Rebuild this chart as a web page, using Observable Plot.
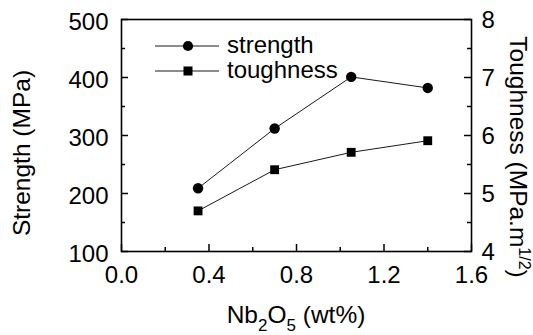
<!DOCTYPE html>
<html><head><meta charset="utf-8">
<script src="https://cdn.jsdelivr.net/npm/d3@7"></script>
<script src="https://cdn.jsdelivr.net/npm/@observablehq/plot@0.6"></script>
<style>body{margin:0;background:#fff}</style>
</head><body><div id="chart"></div>
<script>
const nb2o5 = [0.35, 0.70, 1.05, 1.40];
const strength = [209, 312, 401, 382];
const toughness = [4.70, 5.41, 5.71, 5.91];
const xTicks = [0.0, 0.4, 0.8, 1.2, 1.6];
const xMinor = [0.2, 0.6, 1.0, 1.4];
const yTicks = [100, 200, 300, 400, 500];
const yMinor = [150, 250, 350, 450];
const rTicks = [4, 5, 6, 7, 8];
const rMinor = [4.5, 5.5, 6.5, 7.5];

const toLeft = t => 100 + (t - 4) * 100;
const fromLeft = v => 4 + (v - 100) / 100;

const sData = nb2o5.map((x, i) => ({x, y: strength[i]}));
const tData = nb2o5.map((x, i) => ({x, y: toLeft(toughness[i])}));
const font = "'Liberation Sans', Arial, sans-serif";
const FS = 24, TS = 24.5;

const W = 533, H = 335, ML = 121, MR = 62, MT = 19, MB = 84;
const fw = W - ML - MR, fh = H - MT - MB;
const xDom = [0, 1.6], yDom = [100, 500];
const ux = px => px * (xDom[1] - xDom[0]) / fw;
const uy = px => px * (yDom[1] - yDom[0]) / fh;
const tk = {stroke: "black", strokeWidth: 1.5};

const plot = Plot.plot({
  width: W, height: H,
  marginLeft: ML, marginRight: MR, marginTop: MT, marginBottom: MB,
  style: {fontFamily: font, fontSize: FS + "px", color: "black", background: "white"},
  x: {domain: xDom},
  y: {domain: yDom},
  marks: [
    // inward ticks
    Plot.ruleX(xTicks, {x: d => d, y1: yDom[0], y2: yDom[0] + uy(7), ...tk}),
    Plot.ruleX(xMinor, {x: d => d, y1: yDom[0], y2: yDom[0] + uy(4), ...tk}),
    Plot.ruleY(yTicks, {y: d => d, x1: xDom[0], x2: xDom[0] + ux(7), ...tk}),
    Plot.ruleY(yMinor, {y: d => d, x1: xDom[0], x2: xDom[0] + ux(4), ...tk}),
    Plot.ruleY(rTicks.map(toLeft), {y: d => d, x1: xDom[1] - ux(7), x2: xDom[1], ...tk}),
    Plot.ruleY(rMinor.map(toLeft), {y: d => d, x1: xDom[1] - ux(4), x2: xDom[1], ...tk}),
    // tick labels
    Plot.axisX({ticks: xTicks, tickSize: 0, tickPadding: 14, tickFormat: d3.format(".1f"), label: null, fontSize: FS}),
    Plot.axisY({ticks: yTicks, tickSize: 0, tickPadding: 13, label: null, dy: 3, fontSize: FS}),
    Plot.axisY({anchor: "right", ticks: rTicks.map(toLeft), tickSize: 0, tickPadding: 10, tickFormat: v => String(Math.round(fromLeft(v))), label: null, dy: 1, fontSize: FS}),
    Plot.frame({stroke: "black", strokeWidth: 1.6}),
    Plot.line(sData, {x: "x", y: "y", stroke: "black", strokeWidth: 0.9}),
    Plot.line(tData, {x: "x", y: "y", stroke: "black", strokeWidth: 0.9}),
    Plot.dot(sData, {x: "x", y: "y", symbol: "circle", r: 5.2, fill: "black", stroke: "none"}),
    Plot.dot(tData, {x: "x", y: "y", symbol: "square", r: 5.0, fill: "black", stroke: "none"})
  ]
});
document.getElementById("chart").appendChild(plot);

const svg = d3.select(plot);
svg.append("text").attr("transform", "translate(30,153) rotate(-90)")
  .attr("text-anchor", "middle").attr("font-family", font).attr("font-size", TS)
  .text("Strength (MPa)");

const rt = svg.append("text").attr("transform", "translate(510,157) rotate(90)")
  .attr("text-anchor", "middle").attr("font-family", font).attr("font-size", TS);
rt.append("tspan").text("Toughness (MPa.m");
rt.append("tspan").attr("font-size", 16).attr("dy", -9).text("1/2");
rt.append("tspan").attr("dy", 9).text(")");

const xt = svg.append("text").attr("x", 296).attr("y", 323)
  .attr("text-anchor", "middle").attr("font-family", font).attr("font-size", TS);
xt.append("tspan").text("Nb");
xt.append("tspan").attr("font-size", 17).attr("dy", 8).text("2");
xt.append("tspan").attr("dy", -8).text("O");
xt.append("tspan").attr("font-size", 17).attr("dy", 8).text("5");
xt.append("tspan").attr("dy", -8).text(" (wt%)");

const legend = [
  {label: "strength", y: 46, sym: d3.symbolCircle},
  {label: "toughness", y: 71, sym: d3.symbolSquare}
];
legend.forEach(e => {
  const g = svg.append("g");
  g.append("line").attr("x1", 155).attr("x2", 219).attr("y1", e.y).attr("y2", e.y)
    .attr("stroke", "black").attr("stroke-width", 0.9);
  g.append("path").attr("transform", `translate(188,${e.y})`)
    .attr("d", d3.symbol(e.sym, Math.PI * 5.1 * 5.1)()).attr("fill", "black");
  g.append("text").attr("x", 227).attr("y", e.y + 7).attr("text-anchor", "start")
    .attr("font-family", font).attr("font-size", FS).text(e.label);
});
</script></body></html>
